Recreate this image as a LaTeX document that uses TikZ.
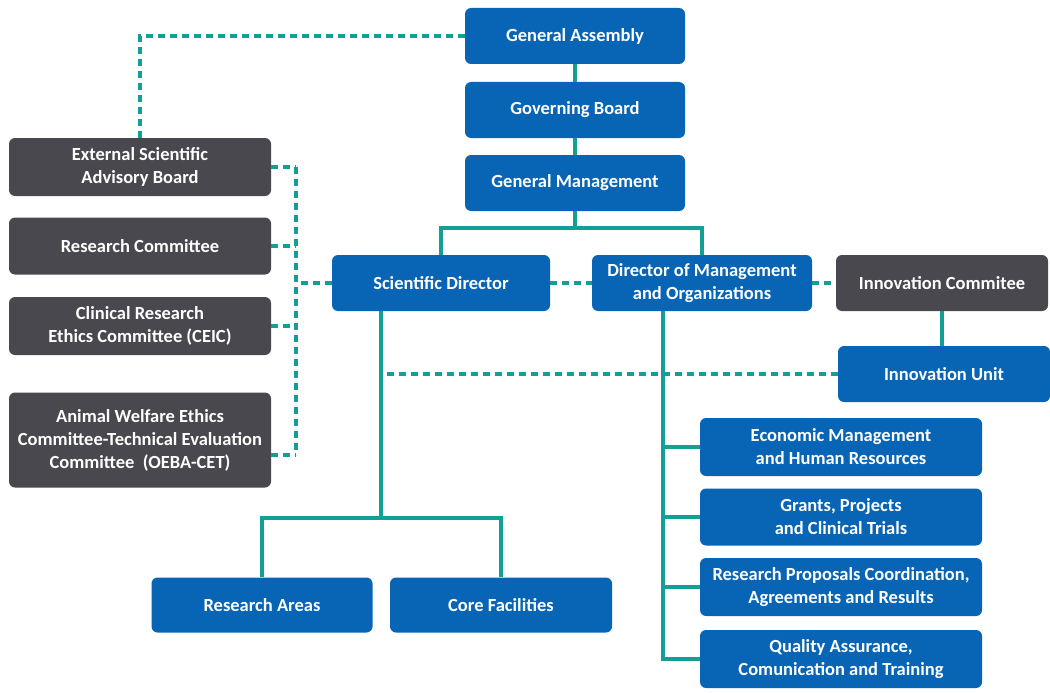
\documentclass[tikz,border=0pt]{standalone}
\usepackage{fontspec}
\setmainfont{Carlito}
\usepackage{xcolor}
\definecolor{unitBlue}{RGB}{8, 101, 181}
\definecolor{boardGray}{RGB}{72, 72, 78}
\definecolor{linkTeal}{RGB}{18, 160, 150}
\usepackage{tikz}
\usetikzlibrary{positioning,shapes,backgrounds}

\tikzset{
  orgBox/.style={rounded corners=6pt, text=white, align=center, inner sep=2pt,
    font=\fontsize{18.5}{23}\selectfont\bfseries, minimum height=56pt},
  blueBox/.style={orgBox, fill=unitBlue},
  grayBox/.style={orgBox, fill=boardGray},
  solidLink/.style={draw=linkTeal, line width=3.5pt},
  dashLink/.style={draw=linkTeal, line width=4pt, dash pattern=on 7pt off 5pt}
}

\begin{document}
\begin{tikzpicture}[x=1pt, y=-1pt]
\useasboundingbox (0,0) rectangle (1050,693);

% governing bodies
\node[blueBox, minimum width=220pt] (ga) at (575,36) {General Assembly};
\node[blueBox, minimum width=220pt] (gb) at (575,110) {Governing Board};
\node[blueBox, minimum width=220pt] (gm) at (575,183) {General Management};

% directors
\node[blueBox, minimum width=218pt] (sd) at (441,283) {Scientific Director};
\node[blueBox, minimum width=220pt] (dm) at (702,283) {Director of Management\\and Organizations};
\node[grayBox, minimum width=212pt] (ic) at (942,283) {Innovation Commitee};
\node[blueBox, minimum width=212pt] (iu) at (944,374) {Innovation Unit};

% committees
\node[grayBox, minimum width=262pt, minimum height=58pt] (esab) at (140,167) {External Scientific\\Advisory Board};
\node[grayBox, minimum width=262pt, minimum height=57pt] (rc) at (140,246) {Research Committee};
\node[grayBox, minimum width=262pt, minimum height=58pt] (crec) at (140,326) {Clinical Research\\Ethics Committee (CEIC)};
\node[grayBox, minimum width=262pt, minimum height=95pt] (awec) at (140,440) {Animal Welfare Ethics\\Committee-Technical Evaluation\\Committee~ (OEBA-CET)};

% scientific side
\node[blueBox, minimum width=221pt, minimum height=55pt] (ra) at (262,605) {Research Areas};
\node[blueBox, minimum width=222pt, minimum height=55pt] (cf) at (501,605) {Core Facilities};

% management side
\node[blueBox, minimum width=282pt, minimum height=58pt] (em) at (841,447) {Economic Management\\and Human Resources};
\node[blueBox, minimum width=282pt, minimum height=57pt] (gp) at (841,517) {Grants, Projects\\and Clinical Trials};
\node[blueBox, minimum width=282pt, minimum height=58pt] (rp) at (841,587) {Research Proposals Coordination,\\Agreements and Results};
\node[blueBox, minimum width=282pt, minimum height=58pt] (qa) at (841,659) {Quality Assurance,\\Comunication and Training};

% solid links
\draw[solidLink] (ga) -- (gb) -- (gm);
\draw[solidLink] (gm.south) -- ++(0,17) coordinate (gmFork);
\draw[solidLink] (sd.north) |- (gmFork) -| (dm.north);
\draw[solidLink] (ic.south) -- (ic.south |- iu.north);
\draw[solidLink] ([xshift=-60pt]sd.south) coordinate (sdTrunk) -- ++(0,207) coordinate (sdFork);
\draw[solidLink] (ra.north) |- (sdFork) -| (cf.north);
\draw[solidLink] ([xshift=-39pt]dm.south) coordinate (dmTrunk) -- (dmTrunk |- qa.west) -- (qa.west);
\foreach \b in {em,gp,rp}
  \draw[solidLink] (\b.west -| dmTrunk) -- (\b.west);

% dashed links
\coordinate (cBus) at (296,0);
\draw[dashLink] (ga.west) -| (esab.north);
\foreach \b in {esab,rc,crec}
  \draw[dashLink] (\b.east) -- (\b.east -| cBus);
\draw[dashLink] ([yshift=-15pt]awec.east) coordinate (awecLink) -- (awecLink -| cBus);
\draw[dashLink] (esab.east -| cBus) -- (awecLink -| cBus);
\draw[dashLink] (sd.west) -- (sd.west -| cBus);
\draw[dashLink] (sd.east) -- (dm.west);
\draw[dashLink] (dm.east) -- (ic.west);
\draw[dashLink] (iu.west) -- (iu.west -| sdTrunk);
\end{tikzpicture}
\end{document}
